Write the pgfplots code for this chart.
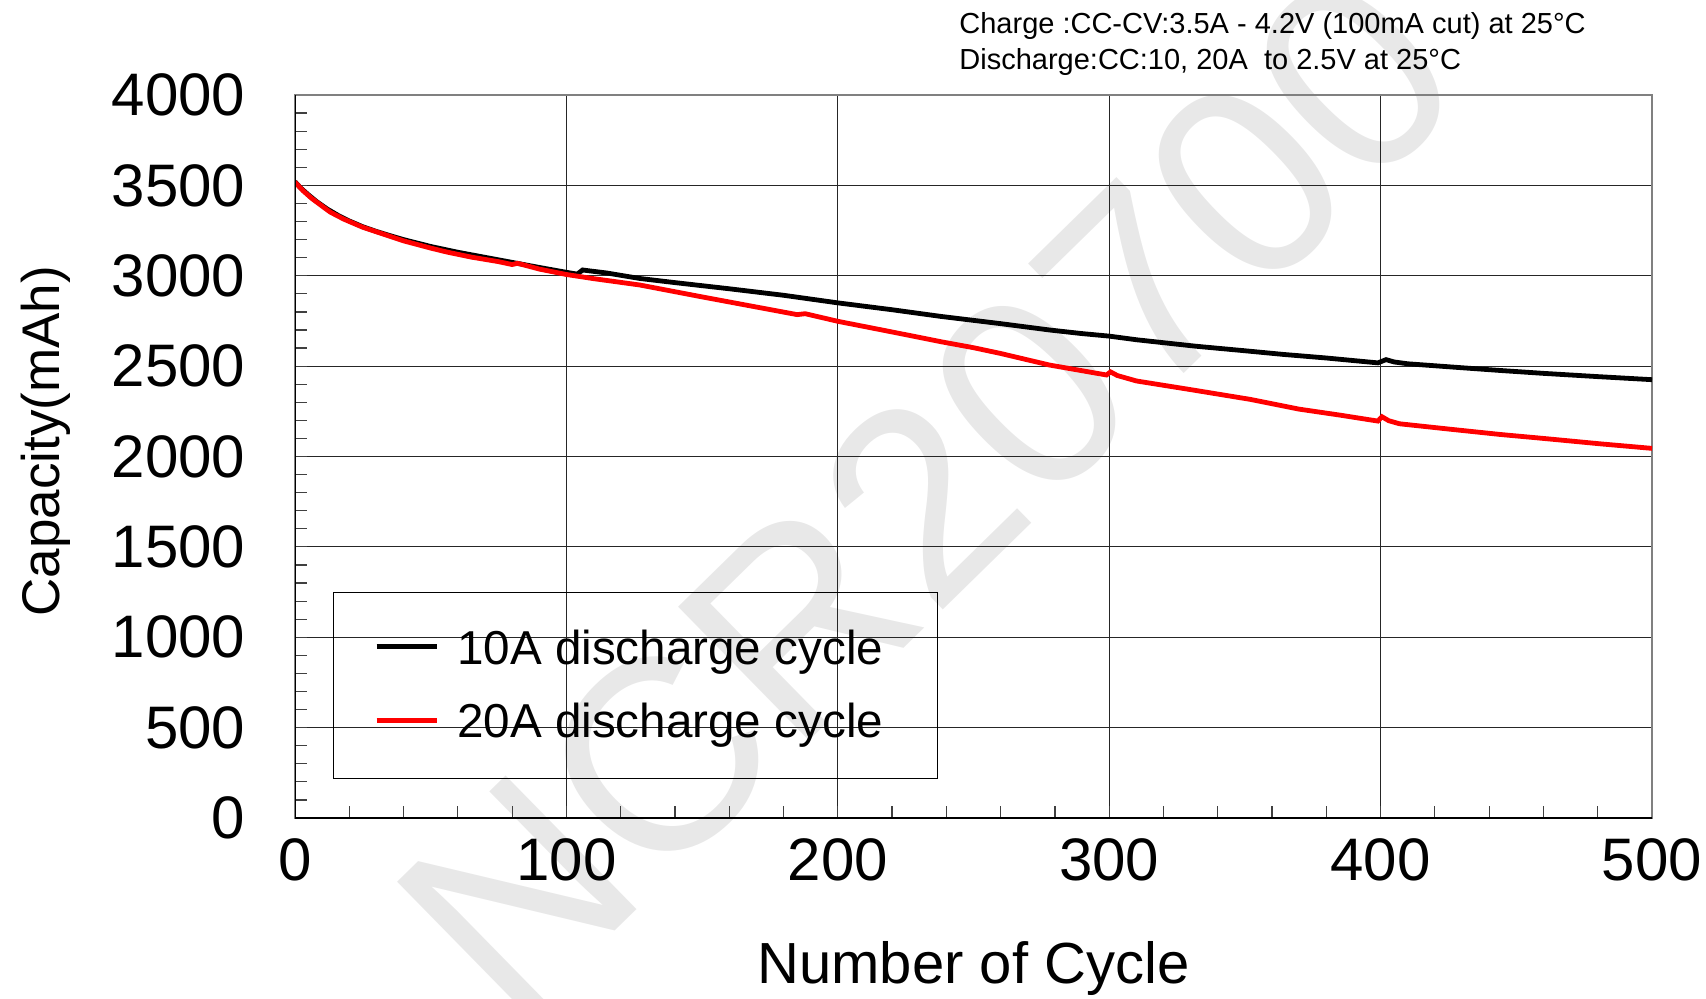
\documentclass[border=0pt]{standalone}
\usepackage{fontspec}
\setmainfont{Liberation Sans}
\usepackage{pgfplots}
\pgfplotsset{compat=1.18}
\begin{document}
\begin{tikzpicture}
\useasboundingbox (0,0) rectangle (853pt,499pt);
\begin{scope}
\clip (0,0) rectangle (853pt,499pt);
\node[rotate=44.4, text=black!9, font=\fontsize{136}{136}\selectfont, inner sep=0pt] at (464pt,252pt) {NCR20700};
\end{scope}
\node[anchor=base west, font=\fontsize{14.5}{14.5}\selectfont, inner sep=0pt] at (479.5pt,482pt) {Charge :CC-CV:3.5A - 4.2V (100mA cut) at 25°C};
\node[anchor=base west, font=\fontsize{14.5}{14.5}\selectfont, inner sep=0pt] at (479.5pt,464pt) {Discharge:CC:10, 20A\ \ to 2.5V at 25°C};
\begin{axis}[
  at={(147.5pt,90pt)}, anchor=south west,
  scale only axis, width=678.5pt, height=361.5pt,
  xmin=0, xmax=500, ymin=0, ymax=4000,
  xtick={0,100,...,500}, ytick={0,500,...,4000},
  minor x tick num=4, minor y tick num=4,
  tick align=inside, xtick pos=bottom, ytick pos=left,
  major tick length=6pt, minor tick length=6pt,
  grid=major, major grid style={black!85, line width=0.6pt},
  tick style={black!75, line width=0.6pt},
  axis line style={black!50, line width=1pt},
  /pgf/number format/assume math mode=true,
  /pgf/number format/1000 sep={},
  ticklabel style={font=\fontsize{30}{30}\selectfont},
  xticklabel style={yshift=-6.7pt},
  yticklabel style={xshift=-21.3pt},
  xlabel={Number of Cycle}, ylabel={Capacity(mAh)},
  every axis x label/.style={at={(rel axis cs:0.5,0)}, yshift=-75pt, anchor=center, font=\fontsize{29}{29}\selectfont},
  every axis y label/.style={at={(rel axis cs:0,0.521)}, xshift=-124.4pt, rotate=90, anchor=center, font=\fontsize{26.5}{26.5}\selectfont},
  legend style={at={(rel axis cs:0.028,0.054)}, anchor=south west, draw=black, line width=0.6pt, fill=none,
    font=\fontsize{23.8}{23.8}\selectfont, inner xsep=20.2pt, inner ysep=18.7pt,
    nodes={inner sep=0pt}, column sep=9pt, row sep=18.2pt},
  legend cell align=left,
  legend image code/.code={\draw[#1, line width=2.6pt] (0pt,0.8pt) -- (30pt,0.8pt);},
]
\addplot[black, line width=2.4pt] coordinates {
(0,3520) (2,3487) (5,3447) (8,3410) (12,3368) (16,3333) (20,3303) (25,3271) (30,3245)
(35,3222) (40,3200) (50,3162) (60,3130) (70,3102) (80,3074) (90,3046) (100,3019)
(104,3009) (106,3032) (108,3028) (115,3015) (127,2985) (140,2962) (160,2928) (180,2892)
(200,2850) (220,2812) (238,2775) (260,2735) (278,2700) (290,2680) (300,2666) (310,2646)
(332,2610) (350,2585) (364,2565) (380,2545) (399,2518) (402,2536) (405,2523) (410,2513)
(430,2491) (444,2476) (460,2460) (480,2442) (500,2425)
};
\addlegendentry{10A discharge cycle\hspace*{7.1pt}}
\addplot[red, line width=2.4pt] coordinates {
(0,3518) (3,3470) (6,3430) (10,3385) (13,3352) (18,3313) (25,3268) (31,3238) (40,3193)
(50,3153) (56,3131) (65,3103) (75,3078) (80,3062) (82,3069) (90,3037) (100,3007)
(110,2984) (127,2949) (150,2883) (170,2827) (185,2785) (188,2790) (200,2748) (220,2689)
(238,2635) (250,2602) (260,2570) (278,2506) (299,2451) (300.5,2468) (303,2448) (310,2418)
(330,2370) (352,2316) (370,2262) (385,2229) (399,2196) (400.5,2220) (403,2198) (407,2181)
(425,2152) (444,2122) (460,2100) (481,2070) (500,2045)
};
\addlegendentry{20A discharge cycle\hspace*{7.1pt}}
\draw[black, line width=1pt] (rel axis cs:0,1) -- (rel axis cs:0,0) -- (rel axis cs:1,0);
\end{axis}
\end{tikzpicture}
\end{document}
